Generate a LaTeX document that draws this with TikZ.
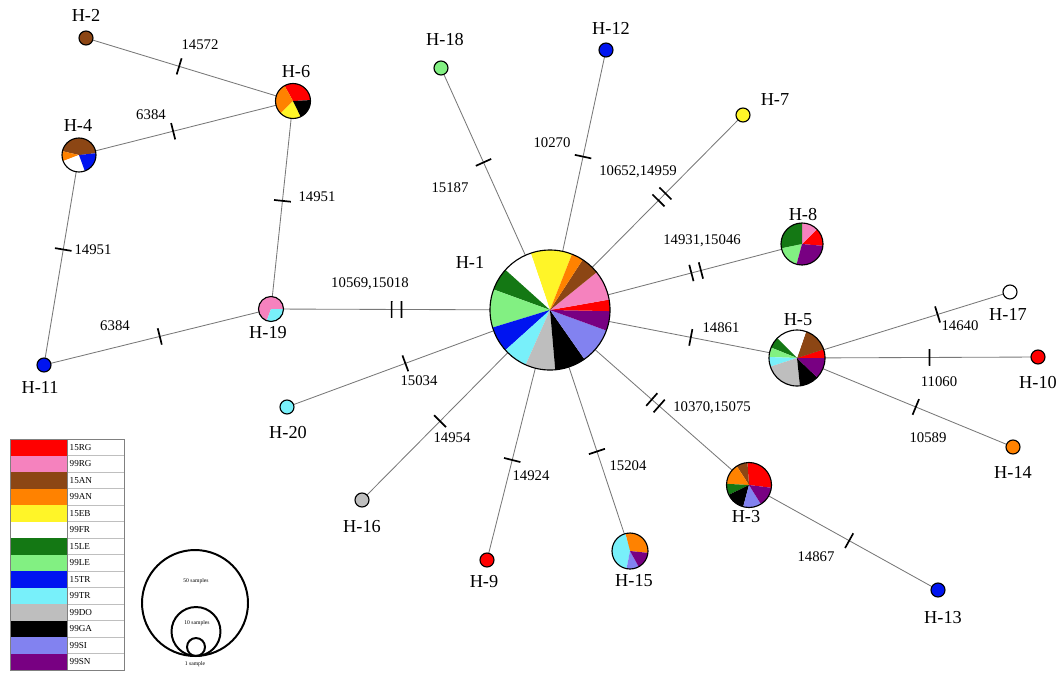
\documentclass[tikz,border=0pt]{standalone}
\usepackage{fontspec}
\setmainfont{Liberation Serif}
\usetikzlibrary{decorations.markings}

\definecolor{c15RG}{RGB}{255,0,0}
\definecolor{c99RG}{RGB}{245,130,190}
\definecolor{c15AN}{RGB}{140,70,20}
\definecolor{c99AN}{RGB}{255,130,0}
\definecolor{c15EB}{RGB}{255,245,40}
\definecolor{c99FR}{RGB}{255,255,255}
\definecolor{c15LE}{RGB}{20,120,20}
\definecolor{c99LE}{RGB}{130,240,130}
\definecolor{c15TR}{RGB}{0,20,240}
\definecolor{c99TR}{RGB}{120,240,250}
\definecolor{c99DO}{RGB}{190,190,190}
\definecolor{c99GA}{RGB}{0,0,0}
\definecolor{c99SI}{RGB}{130,130,240}
\definecolor{c99SN}{RGB}{120,0,130}
\definecolor{edgegray}{RGB}{120,120,120}

\tikzset{
  link/.style={draw=edgegray, line width=0.6pt},
  onetick/.style={postaction={decorate, decoration={markings,
      mark=at position #1 with {\draw[black, line width=1.2pt] (0,-6pt) -- (0,6pt);}}}},
  twotick/.style={postaction={decorate, decoration={markings,
      mark=at position #1 with {\draw[black, line width=1.2pt] (-3.5pt,-6pt) -- (-3.5pt,6pt) (3.5pt,-6pt) -- (3.5pt,6pt);}}}},
  hlabel/.style={font=\fontsize{13}{15}\selectfont, inner sep=1pt},
  mlabel/.style={font=\fontsize{10.5}{12}\selectfont, inner sep=1pt},
  legtext/.style={font=\fontsize{6.5}{7}\selectfont, inner sep=1pt, anchor=west},
  sizetext/.style={font=\fontsize{4}{5}\selectfont, inner sep=0pt},
}

% torta: centro, raggio (px), fette
\newcommand{\torta}[3]{%
  \foreach \a/\b/\c in {#3}
    \fill[\c] (#1) -- ++(\a:#2*0.025cm) arc[start angle=\a, end angle=\b, radius=#2*0.025cm] -- cycle;
  \draw[black, line width=0.8pt] (#1) circle[radius=#2*0.025cm];
}

\begin{document}
\begin{tikzpicture}[x=0.025cm, y=-0.025cm]
\useasboundingbox (0,0) rectangle (1057,673);

\coordinate (H1) at (550,310);
\coordinate (H2) at (86,38);
\coordinate (H3) at (749,485);
\coordinate (H4) at (79,155);
\coordinate (H5) at (797,358);
\coordinate (H6) at (293,101);
\coordinate (H7) at (743,115);
\coordinate (H8) at (802,244);
\coordinate (H9) at (487,560);
\coordinate (H10) at (1038,357);
\coordinate (H11) at (44,365);
\coordinate (H12) at (606,50);
\coordinate (H13) at (938,590);
\coordinate (H14) at (1013,447);
\coordinate (H15) at (630,551);
\coordinate (H16) at (362,500);
\coordinate (H17) at (1010,292);
\coordinate (H18) at (441,68);
\coordinate (H19) at (271,309);
\coordinate (H20) at (287,407);

% collegamenti
\draw[link, onetick=0.45] (H2) -- (H6);
\draw[link, onetick=0.44] (H4) -- (H6);
\draw[link, onetick=0.48] (H6) -- (H19);
\draw[link, onetick=0.45] (H4) -- (H11);
\draw[link, onetick=0.51] (H11) -- (H19);
\draw[link, twotick=0.45] (H19) -- (H1);
\draw[link, onetick=0.55] (H1) -- (H20);
\draw[link, onetick=0.585] (H1) -- (H16);
\draw[link, onetick=0.6] (H1) -- (H9);
\draw[link, onetick=0.587] (H1) -- (H15);
\draw[link, twotick=0.53] (H1) -- (H3);
\draw[link, onetick=0.53] (H3) -- (H13);
\draw[link, onetick=0.57] (H1) -- (H5);
\draw[link, onetick=0.55] (H5) -- (H14);
\draw[link, onetick=0.55] (H5) -- (H10);
\draw[link, onetick=0.66] (H5) -- (H17);
\draw[link, twotick=0.58] (H1) -- (H8);
\draw[link, twotick=0.58] (H1) -- (H7);
\draw[link, onetick=0.59] (H1) -- (H12);
\draw[link, onetick=0.61] (H1) -- (H18);

% aplotipi
\torta{H1}{60}{68.5/108.7/c15EB, 108.7/138/c99FR, 138/160/c15LE, 160/197/c99LE,
  197/222/c15TR, 222/246/c99TR, 246/275/c99DO, 275/305/c99GA, 305/340/c99SI,
  340/359/c99SN, -1/10/c15RG, 10/39/c99RG, 39/57/c15AN, 57/68.5/c99AN}
\torta{H5}{28}{0/18/c15RG, 18/71/c15AN, 71/135/c99FR, 135/158/c15LE, 158/178/c99LE,
  178/198/c99TR, 198/276/c99DO, 276/316/c99GA, 316/360/c99SN}
\torta{H8}{21}{-5/45/c15RG, 45/90/c99RG, 90/192/c15LE, 192/255/c99LE, 255/355/c99SN}
\torta{H3}{22.5}{-7/94/c15RG, 94/123/c15AN, 123/177/c99AN, 177/206/c15LE,
  206/255/c99GA, 255/302/c99SI, 302/353/c99SN}
\torta{H6}{17.5}{3/119/c15RG, 119/225/c99AN, 225/296/c15EB, 296/363/c99GA}
\torta{H4}{17}{6/167/c15AN, 167/201/c99AN, 201/290/c99FR, 290/366/c15TR}
\torta{H19}{12.5}{0/250/c99RG, 250/360/c99TR}
\torta{H15}{18}{-6/105/c99AN, 105/259/c99TR, 259/299/c99SI, 299/354/c99SN}
\torta{H2}{7}{0/360/c15AN}
\torta{H7}{7}{0/360/c15EB}
\torta{H9}{7}{0/360/c15RG}
\torta{H10}{7}{0/360/c15RG}
\torta{H11}{7}{0/360/c15TR}
\torta{H12}{7}{0/360/c15TR}
\torta{H13}{7}{0/360/c15TR}
\torta{H14}{7}{0/360/c99AN}
\torta{H16}{7}{0/360/c99DO}
\torta{H17}{7}{0/360/c99FR}
\torta{H18}{7}{0/360/c99LE}
\torta{H20}{7}{0/360/c99TR}

% nomi
\node[hlabel] (tH1) at (470,262) {H-1};
\node[hlabel] (tH2) at (86,15) {H-2};
\node[hlabel] (tH3) at (746,517) {H-3};
\node[hlabel] (tH4) at (78,125) {H-4};
\node[hlabel] (tH5) at (798,320) {H-5};
\node[hlabel] (tH6) at (296,72) {H-6};
\node[hlabel] (tH7) at (775,100) {H-7};
\node[hlabel] (tH8) at (803,215) {H-8};
\node[hlabel] (tH9) at (484,582) {H-9};
\node[hlabel] (tH10) at (1038,382) {H-10};
\node[hlabel] (tH11) at (40,387) {H-11};
\node[hlabel] (tH12) at (611,28) {H-12};
\node[hlabel] (tH13) at (943,618) {H-13};
\node[hlabel] (tH14) at (1013,472) {H-14};
\node[hlabel] (tH15) at (634,581) {H-15};
\node[hlabel] (tH16) at (362,527) {H-16};
\node[hlabel] (tH17) at (1008,314) {H-17};
\node[hlabel] (tH18) at (445,40) {H-18};
\node[hlabel] (tH19) at (268,333) {H-19};
\node[hlabel] (tH20) at (288,432) {H-20};

% mutazioni
\node[mlabel] (m2-6) at (200,45) {14572};
\node[mlabel] (m4-6) at (151,115) {6384};
\node[mlabel] (m6-19) at (317,197) {14951};
\node[mlabel] (m4-11) at (93,250) {14951};
\node[mlabel] (m11-19) at (115,326) {6384};
\node[mlabel] (m19-1) at (370,284) {10569,15018};
\node[mlabel] (m1-20) at (419,381) {15034};
\node[mlabel] (m1-16) at (452,438) {14954};
\node[mlabel] (m1-9) at (531,476) {14924};
\node[mlabel] (m1-15) at (628,466) {15204};
\node[mlabel] (m1-3) at (712,408) {10370,15075};
\node[mlabel] (m3-13) at (816,557) {14867};
\node[mlabel] (m1-5) at (721,328) {14861};
\node[mlabel] (m5-14) at (928,438) {10589};
\node[mlabel] (m5-10) at (939,382) {11060};
\node[mlabel] (m5-17) at (960,326) {14640};
\node[mlabel] (m1-8) at (702,241) {14931,15046};
\node[mlabel] (m1-7) at (638,172) {10652,14959};
\node[mlabel] (m1-12) at (552,143) {10270};
\node[mlabel] (m1-18) at (450,188) {15187};

% legenda
\foreach \c/\t [count=\i] in {c15RG/15RG, c99RG/99RG, c15AN/15AN, c99AN/99AN,
    c15EB/15EB, c99FR/99FR, c15LE/15LE, c99LE/99LE, c15TR/15TR, c99TR/99TR,
    c99DO/99DO, c99GA/99GA, c99SI/99SI, c99SN/99SN} {
  \fill[\c] (10,{439+(\i-1)*16.5}) rectangle (67,{439+\i*16.5});
  \draw[gray!50, line width=0.3pt] (67,{439+\i*16.5}) -- (124,{439+\i*16.5});
  \node[legtext] (leg\i) at (68,{439+(\i-0.5)*16.5}) {\t};
}
\draw[gray, line width=0.5pt] (10,439) rectangle (124,670) (67,439) -- (67,670);

% cerchi di scala
\draw[line width=1.4pt] (195,603) circle[radius=53*0.025cm];
\draw[line width=1.4pt] (196,631.5) circle[radius=24.5*0.025cm];
\draw[line width=1.4pt] (196,647) circle[radius=9*0.025cm];
\node[sizetext] (s50) at (196,581) {50 samples};
\node[sizetext] (s10) at (197,623) {10 samples};
\node[sizetext] (s1) at (195,664) {1 sample};
\end{tikzpicture}
\end{document}
